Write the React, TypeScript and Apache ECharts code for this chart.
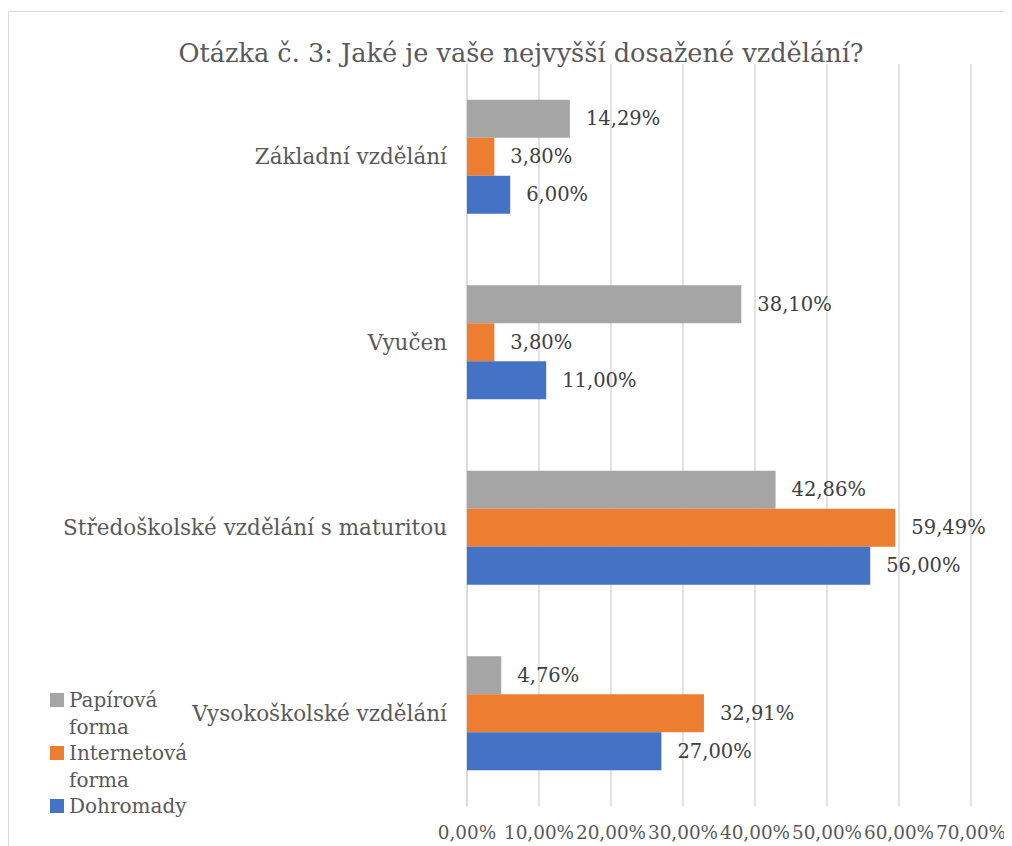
import React, { useEffect, useRef } from "react";
import * as echarts from "echarts";

const categories = [
  "Základní vzdělání",
  "Vyučen",
  "Středoškolské vzdělání s maturitou",
  "Vysokoškolské vzdělání",
];
const seriesNames = ["Papírová forma", "Internetová forma", "Dohromady"];
const legendLabels = ["Papírová\nforma", "Internetová\nforma", "Dohromady\n"];
const papirova = [14.29, 38.1, 42.86, 4.76];
const internetova = [3.8, 3.8, 59.49, 32.91];
const dohromady = [6.0, 11.0, 56.0, 27.0];
const colors = ["#a5a5a5", "#ed7d31", "#4472c4"];
const titleText = "Otázka č. 3: Jaké je vaše nejvyšší dosažené vzdělání?";

const FONT = "DejaVu Serif";
const fmt = (v: number) => v.toFixed(2).replace(".", ",") + "%";

export default function App() {
  const ref = useRef<HTMLDivElement>(null);
  useEffect(() => {
    if (!ref.current) return;
    const chart = echarts.init(ref.current, undefined, { renderer: "svg" });
    const values = [papirova, internetova, dohromady];
    const iconPath = "path://M0,6H14V20H0Z M0,0 M14,53";
    chart.setOption({
      animation: false,
      title: {
        text: titleText,
        left: 508,
        top: 27,
        textAlign: "center",
        textStyle: { fontFamily: FONT, fontSize: 25.6, fontWeight: "normal", color: "#595959" },
      },
      graphic: [
        {
          type: "rect",
          shape: { x: 0.5, y: 3.5, width: 1100, height: 1100 },
          style: { fill: "none", stroke: "#d9d9d9", lineWidth: 1 },
          silent: true,
        },
      ],
      legend: {
        orient: "vertical",
        left: 42,
        top: 679,
        height: 170,
        padding: 0,
        itemWidth: 14,
        itemHeight: 53,
        itemGap: 0,
        selectedMode: false,
        data: seriesNames.map((n) => ({ name: n, icon: iconPath })),
        formatter: (name: string) => legendLabels[seriesNames.indexOf(name)],
        textStyle: { fontFamily: FONT, fontSize: 20, color: "#595959", lineHeight: 26.5 },
      },
      grid: { left: 459, right: 41, top: 56, height: 742, containLabel: false },
      xAxis: {
        type: "value",
        min: 0,
        max: 70,
        interval: 10,
        axisLine: { show: false },
        axisTick: { show: false },
        splitLine: { show: true, lineStyle: { color: "#d9d9d9", width: 1.5 } },
        axisLabel: {
          formatter: (v: number) => fmt(v),
          fontFamily: FONT,
          fontSize: 18.4,
          color: "#595959",
          margin: 17,
          showMinLabel: true,
          showMaxLabel: true,
          hideOverlap: false,
        },
      },
      yAxis: {
        type: "category",
        data: categories,
        inverse: true,
        axisLine: { show: true, lineStyle: { color: "#d9d9d9", width: 1.5 } },
        axisTick: { show: false },
        axisLabel: { fontFamily: FONT, fontSize: 21.5, color: "#595959", margin: 20 },
      },
      series: seriesNames.map((name, i) => ({
        type: "bar",
        name,
        data: values[i],
        barGap: "0%",
        barCategoryGap: "38.5%",
        itemStyle: { color: colors[i] },
        label: {
          show: true,
          position: "right",
          distance: 16,
          formatter: (p: any) => fmt(p.value),
          fontFamily: FONT,
          fontSize: 19.5,
          color: "#404040",
        },
      })),
    });
    return () => chart.dispose();
  }, []);
  return <div ref={ref} style={{ width: 1004, height: 838 }} />;
}
